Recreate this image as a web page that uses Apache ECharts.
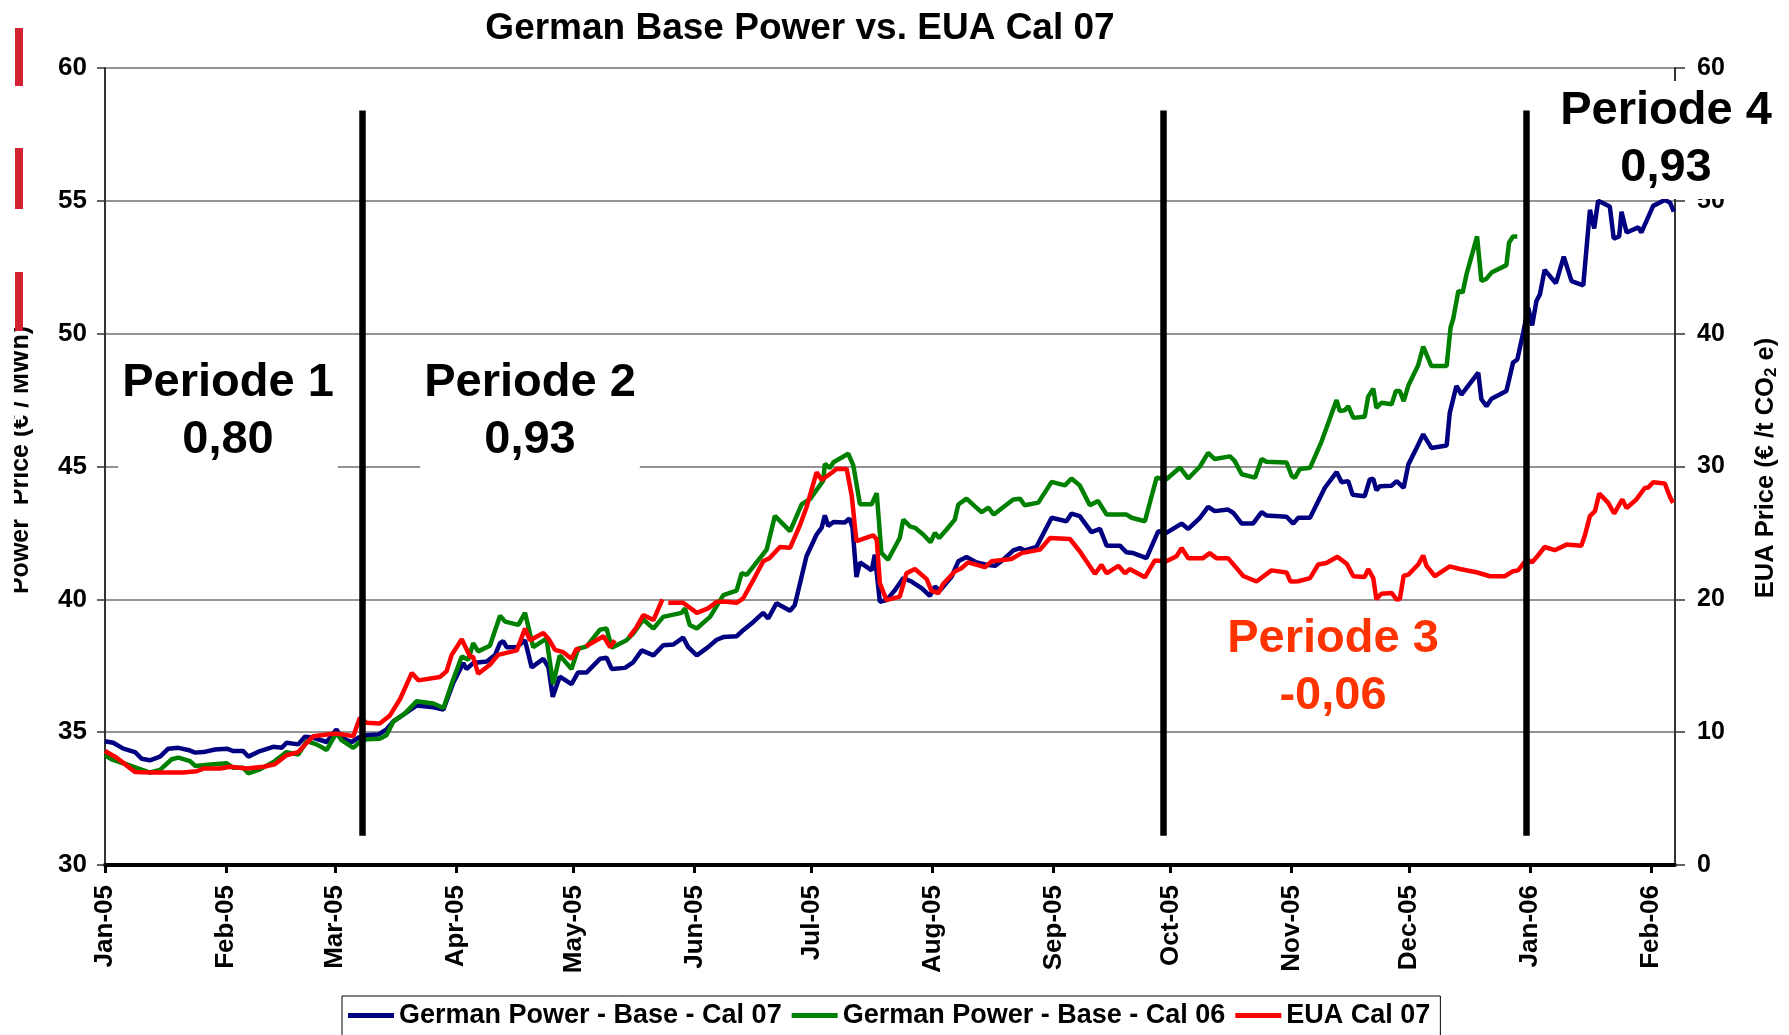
<!DOCTYPE html>
<html>
<head>
<meta charset="utf-8">
<script src="https://cdn.jsdelivr.net/npm/echarts@6/dist/echarts.min.js"></script>
<style>
  html, body { margin: 0; padding: 0; background: #fff; }
  #chart { width: 1789px; height: 1035px; }
</style>
</head>
<body>
<div id="chart"></div>
<script>
// x values are day offsets from 1 Jan 2005
var monthTicks = ['2005-01-01','2005-02-01','2005-03-01','2005-04-01','2005-05-01','2005-06-01',
  '2005-07-01','2005-08-01','2005-09-01','2005-10-01','2005-11-01','2005-12-01','2006-01-01','2006-02-01'];
var monthNames = ['Jan','Feb','Mar','Apr','May','Jun','Jul','Aug','Sep','Oct','Nov','Dec'];

var powerTicks = [30, 35, 40, 45, 50, 55, 60];
var euaTicks = [0, 10, 20, 30, 40, 50, 60];

// German Power - Base - Cal 07 (EUR/MWh)
var baseCal07 = [[0,34.66],[2.1,34.6],[4.7,34.38],[7.7,34.25],[9.4,34.0],[11.5,33.94],[14.1,34.08],[16.2,34.38],[18.8,34.41],[21.3,34.33],
  [23.1,34.23],[25.2,34.25],[28.2,34.35],[31.2,34.38],[32.9,34.29],[35.4,34.29],[36.7,34.08],[39.7,34.29],[43.1,34.45],[45.3,34.41],
  [46.5,34.6],[49.5,34.54],[51.2,34.83],[53.4,34.79],[56.8,34.63],[59.3,35.1],[60.6,34.79],[63.2,34.63],[64.9,34.79],[67.0,34.88],
  [70.0,34.91],[72.1,35.1],[73.9,35.41],[76.8,35.7],[79.8,36.0],[84.1,35.94],[86.7,35.85],[89.2,36.85],[91.8,37.6],[92.6,37.38],
  [94.3,37.6],[97.8,37.66],[99.9,37.9],
  [101.2,38.35],[102.0,38.43],[102.9,38.2],[105.5,38.2],[107.6,38.46],[109.3,37.44],[112.3,37.76],[113.6,37.44],[114.7,36.33],[116.5,37.09],
  [119.5,36.81],[121.2,37.25],[123.4,37.25],[126.8,37.76],[128.5,37.8],[129.8,37.38],[133.2,37.42],[135.3,37.63],[137.5,38.08],[140.5,37.89],
  [143.0,38.27],[145.6,38.3],[148.1,38.56],[149.4,38.2],[151.6,37.89],[154.5,38.2],[156.7,38.48],[158.4,38.58],[161.8,38.61],[163.5,38.84],
  [166.1,39.15],[168.6,39.49],[169.9,39.28],[172.0,39.85],[175.5,39.57],[176.7,39.78],[179.7,41.62],[182.3,42.44],[183.6,42.7],[184.4,43.16],
  [185.3,42.76],[186.6,42.91],[189.5,42.89],[190.7,43.04],[191.5,42.7],[192.5,40.84],[193.4,41.39],[196.4,41.09],[197.2,41.68],[198.5,39.91],
  [200.2,39.97],[202.4,40.35],[204.5,40.8],[206.6,40.67],[209.2,40.42],[211.3,40.13],[212.6,40.48],[213.9,40.33],[216.9,40.86],[218.6,41.43],
  [220.7,41.59],[223.3,41.39],[225.8,41.3],[228.0,41.26],[230.1,41.49],[232.7,41.84],[234.4,41.93],[235.6,41.84],[238.6,41.97],[242.5,43.07],
  [246.3,42.94],[247.6,43.23],[249.7,43.13],[252.7,42.53],[254.9,42.65],[256.6,42.02],[260.0,42.02],[261.7,41.77],[263.4,41.74],[266.8,41.55],
  [269.8,42.56],[271.9,42.5],[275.8,42.85],[277.5,42.65],[280.5,43.07],[282.6,43.48],[284.3,43.32],[287.7,43.38],[289.0,43.26],[291.2,42.85],
  [294.1,42.85],[296.3,43.28],[297.5,43.16],[302.7,43.11],
  [304.4,42.85],[305.7,43.07],[308.7,43.07],[312.5,44.2],[315.5,44.79],[316.8,44.41],[318.5,44.45],[319.6,43.94],[322.7,43.88],[324.0,44.51],
  [324.9,44.54],[325.7,44.11],[326.6,44.26],[329.6,44.28],[330.9,44.45],[332.7,44.2],[333.9,45.08],[336.0,45.7],[337.7,46.21],[339.8,45.7],
  [343.7,45.79],[344.5,47.02],[346.2,48.03],[347.5,47.71],[351.8,48.53],[352.6,47.53],[353.9,47.27],[355.2,47.55],[359.0,47.84],[359.9,48.4],
  [360.7,48.91],[361.8,49.03],[363.3,50.03],[364.6,50.98],[365.6,50.31],[366.7,51.23],[367.6,51.48],[368.8,52.4],[371.7,51.9],[373.7,52.9],
  [375.7,51.98],[378.7,51.82],[380.4,54.66],[381.5,53.96],[382.5,55.0],[385.5,54.79],[386.5,53.58],[387.9,53.66],[388.5,54.59],[389.8,53.81],
  [392.8,54.0],[393.6,53.81],[396.6,54.81],[399.6,55.03],[400.9,54.94],[401.9,54.59]];

// German Power - Base - Cal 06 (EUR/MWh)
var baseCal06 = [[0,34.13],[1.7,33.98],[4.7,33.83],[8.1,33.66],[11.5,33.48],[14.1,33.58],[17.1,33.98],[18.8,34.04],[21.8,33.91],[23.1,33.73],
  [27.8,33.79],[31.2,33.83],[32.9,33.66],[35.4,33.66],[36.7,33.45],[39.7,33.6],[43.5,33.91],[46.5,34.25],[49.5,34.16],[51.7,34.66],
  [54.2,34.54],[56.8,34.33],[59.3,34.98],[60.6,34.7],[63.6,34.41],[65.3,34.63],[67.0,34.73],[70.4,34.75],[72.1,34.88],[73.9,35.41],
  [76.8,35.7],[79.8,36.16],[84.1,36.08],[86.7,35.91],[89.2,36.98],[91.4,37.85],[93.1,37.73],[94.3,38.35],[95.6,38.04],[98.6,38.25],
  [101.2,39.38],[102.5,39.16],[105.9,39.04],
  [107.6,39.49],[109.7,38.2],[113.1,38.52],[114.8,36.81],[116.5,37.89],[119.5,37.38],[121.2,38.14],[123.4,38.23],[126.8,38.86],[128.5,38.9],
  [129.8,38.18],[133.6,38.46],[135.3,38.71],[137.9,39.24],[140.5,38.9],[143.0,39.34],[147.7,39.49],[148.6,39.66],[149.8,39.03],[151.6,38.9],
  [155.0,39.34],[158.4,40.16],[161.8,40.33],[163.1,40.99],[164.4,40.92],[169.5,41.87],[171.6,43.14],[175.5,42.57],[178.5,43.58],[180.6,43.77],
  [184.0,44.47],[184.4,45.1],[185.7,44.94],[186.6,45.16],[190.4,45.48],[191.7,45.04],[193.4,43.58],[196.4,43.58],[197.7,44.0],[198.9,41.75],
  [200.6,41.49],[203.6,42.31],[204.5,43.0],[206.2,42.75],[207.5,42.69],[209.6,42.44],[211.5,42.15],[212.6,42.5],[213.7,42.31],[215.6,42.63],
  [217.7,43.0],[218.6,43.57],[220.7,43.79],[222.8,43.51],[224.6,43.28],[226.3,43.45],[227.7,43.19],[230.5,43.51],[232.7,43.76],[234.4,43.79],
  [235.6,43.54],[239.1,43.64],[242.5,44.42],[245.9,44.29],[247.6,44.55],[249.7,44.29],[252.3,43.54],[254.4,43.7],[256.6,43.19],[261.7,43.19],
  [263.0,43.07],[266.4,42.94],[269.4,44.58],[271.9,44.52],[275.4,44.96],[277.5,44.55],[280.5,45.0],[282.6,45.51],[284.3,45.28],[288.2,45.38],
  [289.4,45.21],[291.2,44.71],[294.6,44.58],[296.3,45.28],[297.5,45.18],[302.7,45.15],[304.0,44.65],
  [304.8,44.57],[306.1,44.91],[308.7,44.95],[311.6,45.92],[313.4,46.65],[315.5,47.5],[316.3,47.09],[317.6,47.12],[318.5,47.27],[319.8,46.83],
  [322.7,46.87],[323.6,47.63],[324.9,47.93],[325.7,47.21],[327.0,47.4],[329.6,47.34],[330.7,47.84],[331.7,47.84],[332.7,47.46],[333.9,48.05],
  [336.4,48.81],[337.7,49.51],[339.8,48.78],[343.7,48.78],[344.7,50.23],[345.4,50.57],[346.7,51.61],[347.8,51.55],[348.8,52.24],[351.5,53.66],
  [352.6,51.98],[353.9,52.07],[355.2,52.3],[359.0,52.58],[359.7,53.43],[360.7,53.66],[361.8,53.66]];

// EUA Cal 07 (EUR / t CO2e), null = no quote
var euaCal07 = [[0,8.58],[3.0,8.08],[5.5,7.5],[7.7,7.0],[11.5,6.96],[15.8,6.96],[20.1,6.96],[23.5,7.06],[25.2,7.26],[29.5,7.26],
  [32.0,7.4],[36.3,7.26],[40.6,7.4],[43.5,7.58],[46.5,8.26],[49.5,8.5],[51.7,9.2],[53.4,9.7],[56.8,9.82],[59.3,9.9],
  [63.6,9.7],[65.3,11.08],[67.0,10.7],[70.4,10.66],[73.0,11.26],[75.6,12.5],[78.6,14.46],[80.3,13.9],[85.8,14.16],[87.5,14.58],
  [88.8,15.82],[91.4,17.0],[93.5,15.7],[94.3,15.66],[95.6,14.4],[98.6,15.08],[100.7,15.82],
  [105.5,16.16],[107.6,17.8],[108.9,16.92],[112.3,17.46],[113.6,17.04],[115.3,16.2],[117.4,16.02],[119.5,15.52],[120.8,16.28],[121.8,16.2],
  [122.5,null],[123.2,16.46],[127.7,17.22],[129.4,16.4],[130.6,16.92],[132.5,null],[134.3,17.16],[136.2,17.92],[137.9,18.82],[140.5,18.44],
  [142.8,20.0],[143.5,null],[144.3,19.74],[148.1,19.74],[151.6,18.98],[154.5,19.32],[156.7,19.82],[159.2,19.82],[161.8,19.74],[163.5,20.08],
  [166.1,21.46],[168.6,22.86],[170.3,23.12],[172.9,23.94],[175.5,23.88],[178.0,25.56],[179.7,26.92],[182.3,29.56],[183.6,28.98],[186.6,29.62],
  [187.4,29.82],[190.0,29.82],[191.3,27.8],[192.5,24.38],[196.8,24.82],[197.7,24.5],[198.5,21.22],[200.2,19.94],
  [203.6,20.2],[205.3,21.96],[207.5,22.28],[210.5,21.52],[211.7,20.66],[213.5,20.46],[214.7,21.16],[217.7,22.1],[219.4,22.34],[221.1,22.78],
  [225.4,22.42],[227.1,22.86],[232.2,23.04],[234.8,23.48],[239.5,23.74],[242.1,24.62],[247.2,24.54],[249.7,23.62],[253.6,21.92],[255.3,22.6],
  [256.6,21.96],[259.6,22.52],[261.3,21.96],[262.5,22.28],[266.4,21.66],[268.9,22.92],[271.9,22.86],[274.5,23.24],[275.8,23.86],[277.5,23.1],
  [281.3,23.1],[283.0,23.48],[284.7,23.1],[287.7,23.1],[291.6,21.76],[295.0,21.34],[298.8,22.18],[302.7,22.02],[303.7,21.34],
  [305.7,21.36],[308.7,21.6],[310.8,22.62],[312.9,22.74],[315.7,23.2],[318.1,22.68],[319.8,21.74],[322.7,21.68],[323.6,22.28],[324.9,21.6],
  [325.7,20.02],[327.0,20.42],[329.6,20.48],[330.9,19.98],[331.7,20.02],[332.7,21.78],[333.9,21.86],[336.4,22.62],[337.7,23.3],[338.5,22.54],
  [340.7,21.74],[344.5,22.48],[347.1,22.28],[351.3,22.04],[354.8,21.74],[358.6,21.74],[360.7,22.12],[362.0,22.18],[364.2,23.0],[365.6,22.8],
  [367.1,23.3],[368.8,23.94],[371.4,23.7],[374.4,24.12],[378.2,24.04],[379.1,24.8],[380.4,26.26],[381.7,26.64],[382.8,27.96],[385.1,27.26],
  [386.6,26.46],[388.7,27.52],[389.8,26.88],[392.3,27.52],[394.5,28.4],[395.3,28.4],[396.6,28.82],[399.6,28.72],[400.9,27.72],[401.7,27.26]];

// period boundaries (day offsets) and the correlation per period
var periodBreaks = [65.8, 271.1, 364.2];
var periodLabels = ['Periode 1', 'Periode 2', 'Periode 3', 'Periode 4'];
var periodCorr = ['0,80', '0,93', '-0,06', '0,93'];

var DAY = 86400000;
var T0 = Date.UTC(2005, 0, 1);
var monthDays = monthTicks.map(function (s) {
  var p = s.split('-');
  return Math.round((Date.UTC(+p[0], +p[1] - 1, +p[2]) - T0) / DAY);
});
function dayLabel(v) {
  var d = new Date(T0 + Math.round(v) * DAY);
  var yy = String(d.getUTCFullYear() % 100);
  if (yy.length < 2) yy = '0' + yy;
  return monthNames[d.getUTCMonth()] + '-' + yy;
}
function toData(arr) {
  return arr.map(function (p) { return [p[0], p[1] == null ? '-' : p[1]]; });
}

var FONT = 'Liberation Sans, Arial, sans-serif';
var chart = echarts.init(document.getElementById('chart'));

var breakLines = periodBreaks.map(function (d) {
  return [{ coord: [d, 58.4] }, { coord: [d, 31.1] }];
});

function boldText(extra) {
  var s = { fontFamily: FONT, fontWeight: 'bold', fill: '#000' };
  for (var k in extra) s[k] = extra[k];
  return s;
}

var option = {
  animation: false,
  textStyle: { fontFamily: FONT },
  grid: { left: 105, right: 114, top: 68, bottom: 170, containLabel: false, outerBoundsMode: 'none' },
  legend: {
    left: 342, top: 996,
    padding: [6, 10, 30, 6],
    icon: 'rect',
    itemGap: 10, itemWidth: 46, itemHeight: 5,
    borderColor: '#000', borderWidth: 1,
    textStyle: { fontSize: 27, fontWeight: 'bold', color: '#000', fontFamily: FONT },
    data: ['German Power - Base - Cal 07', 'German Power - Base - Cal 06', 'EUA Cal 07']
  },
  xAxis: {
    type: 'value',
    min: 0, max: 402.2,
    axisLine: { lineStyle: { color: '#000', width: 4 } },
    axisTick: { show: true, customValues: monthDays, length: 8, lineStyle: { color: '#000', width: 3 } },
    axisLabel: {
      customValues: monthDays, rotate: 90, margin: 20,
      fontSize: 26, fontWeight: 'bold', color: '#000', fontFamily: FONT,
      formatter: dayLabel
    },
    splitLine: { show: false }
  },
  yAxis: [
    {
      type: 'value', position: 'left', min: 30, max: 60, interval: 5,
      axisLine: { show: true, lineStyle: { color: '#333', width: 2 } },
      axisTick: { show: true, length: 8, lineStyle: { color: '#333', width: 1.5 } },
      axisLabel: { margin: 18, fontSize: 26, fontWeight: 'bold', color: '#000', fontFamily: FONT,
        customValues: powerTicks },
      splitLine: { show: true, lineStyle: { color: '#707070', width: 1.5 } }
    },
    {
      type: 'value', position: 'right', min: 0, max: 60, interval: 10,
      axisLine: { show: true, lineStyle: { color: '#333', width: 2 } },
      axisTick: { show: true, length: 10, lineStyle: { color: '#333', width: 1.5 } },
      axisLabel: { margin: 22, fontSize: 25, fontWeight: 'bold', color: '#000', fontFamily: FONT,
        customValues: euaTicks },
      splitLine: { show: false }
    }
  ],
  series: [
    {
      name: 'German Power - Base - Cal 07', type: 'line', yAxisIndex: 0,
      data: toData(baseCal07), symbol: 'none', showSymbol: false,
      lineStyle: { color: '#000080', width: 4.5 }, itemStyle: { color: '#000080' },
      markLine: {
        silent: true, symbol: ['none', 'none'], label: { show: false },
        lineStyle: { color: '#000', width: 6.5, type: 'solid' },
        emphasis: { disabled: true },
        data: breakLines
      }
    },
    {
      name: 'German Power - Base - Cal 06', type: 'line', yAxisIndex: 0,
      data: toData(baseCal06), symbol: 'none', showSymbol: false,
      lineStyle: { color: '#008000', width: 4.5 }, itemStyle: { color: '#008000' }
    },
    {
      name: 'EUA Cal 07', type: 'line', yAxisIndex: 1, connectNulls: false,
      data: toData(euaCal07), symbol: 'none', showSymbol: false,
      lineStyle: { color: '#FF0000', width: 4.5 }, itemStyle: { color: '#FF0000' }
    }
  ],
  graphic: [
    { type: 'text', x: 800, y: 29, z: 100,
      style: boldText({ text: 'German Base Power vs. EUA Cal 07', fontSize: 37, align: 'center', verticalAlign: 'middle' }) },
    // left axis name, partly cut off at the image edge
    { type: 'text', x: 21, y: 460, rotation: Math.PI / 2, z: 100,
      style: boldText({ text: 'Power  Price (\u20ac / MWh)', fontSize: 25, align: 'center', verticalAlign: 'middle' }) },
    { type: 'rect', shape: { x: 0, y: 300, width: 14, height: 320 }, z: 101, style: { fill: '#fff' } },
    { type: 'rect', shape: { x: 15, y: 28, width: 8, height: 58 }, z: 102, style: { fill: '#D42233' } },
    { type: 'rect', shape: { x: 15, y: 148, width: 8, height: 61 }, z: 102, style: { fill: '#D42233' } },
    { type: 'rect', shape: { x: 15, y: 272, width: 8, height: 59 }, z: 102, style: { fill: '#D42233' } },
    // right axis name
    { type: 'text', x: 1766, y: 468, rotation: Math.PI / 2, z: 100,
      style: boldText({ text: 'EUA Price (\u20ac /t CO{s|2} e)', fontSize: 25.5, align: 'center', verticalAlign: 'middle',
        rich: { s: { fontSize: 17, fontWeight: 'bold', fontFamily: FONT, fill: '#000', padding: [10, 0, 0, 0] } } }) },
    // period annotations
    { type: 'text', x: 228, y: 412, z: 100,
      style: boldText({ text: periodLabels[0] + '\n' + periodCorr[0], fontSize: 47, lineHeight: 57,
        align: 'center', verticalAlign: 'middle', backgroundColor: '#fff', padding: [4, 4, 8, 4] }) },
    { type: 'text', x: 530, y: 412, z: 100,
      style: boldText({ text: periodLabels[1] + '\n' + periodCorr[1], fontSize: 47, lineHeight: 57,
        align: 'center', verticalAlign: 'middle', backgroundColor: '#fff', padding: [4, 4, 8, 4] }) },
    { type: 'text', x: 1333, y: 668, z: 100,
      style: boldText({ text: periodLabels[2] + '\n' + periodCorr[2], fontSize: 47, lineHeight: 57,
        align: 'center', verticalAlign: 'middle', fill: '#FF3300' }) },
    { type: 'text', x: 1666, y: 140, z: 100,
      style: boldText({ text: periodLabels[3] + '\n' + periodCorr[3], fontSize: 47, lineHeight: 57,
        align: 'center', verticalAlign: 'middle', backgroundColor: '#fff', padding: [2, 4, 2, 4] }) }
  ]
};

chart.setOption(option);
</script>
</body>
</html>
